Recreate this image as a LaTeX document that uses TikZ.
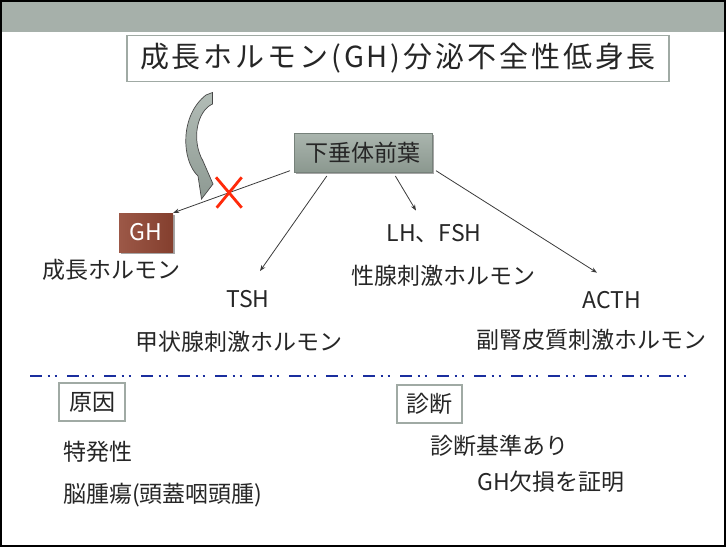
\documentclass[tikz,border=0pt]{standalone}
\usepackage{fontspec}
\setmainfont{Noto Sans CJK JP}
\newfontfamily\titlefont[LetterSpace=10]{Noto Sans CJK JP}
\usetikzlibrary{arrows.meta,shadows,calc}
\definecolor{barg}{HTML}{A6B0AA}
\definecolor{boxline}{HTML}{A0AAA4}
\definecolor{txt}{HTML}{262626}
\definecolor{pitA}{HTML}{AAB5AE}
\definecolor{pitB}{HTML}{8B988F}
\definecolor{ghA}{HTML}{9C5847}
\definecolor{ghB}{HTML}{843F2E}
\definecolor{xred}{HTML}{FF2A0A}
\definecolor{dashblue}{HTML}{1A2E9E}
\definecolor{arrowg}{HTML}{3A3A3A}
\definecolor{curvA}{HTML}{B2BCB6}
\definecolor{curvB}{HTML}{8E9A93}
\begin{document}
\begin{tikzpicture}[x=1pt,y=-1pt,
  lbl/.style={text=txt,font=\fontsize{23}{27}\selectfont,inner sep=0pt},
  conn/.style={draw=arrowg,line width=0.8pt,-{Stealth[length=6pt,width=4.5pt]}},
  framebox/.style={draw=boxline,line width=1.8pt,fill=white,inner sep=0pt},
  shad/.style={drop shadow={shadow xshift=2pt,shadow yshift=-2pt,opacity=0.35,fill=black}},
]
\useasboundingbox (0,0) rectangle (726,547);
\fill[barg] (1,1) rectangle (725,31.5);
\draw[black,line width=2pt] (1,1) rectangle (724.5,545.5);

% title
\node[framebox,minimum width=542pt,minimum height=46pt,text=txt,
      font=\titlefont\fontsize{29}{34}\selectfont] (title) at (398,58.5)
      {成長ホルモン(GH)分泌不全性低身長};

% curved block arrow
\draw[draw=black!72,line width=0.7pt,top color=curvA,bottom color=curvB]
  (206,95) -- (212.5,92.5) -- (212.5,104)
  .. controls (197,111) and (191,140) .. (203,161)
  -- (213,184) -- (201.5,199) -- (198,176)
  .. controls (181,160) and (180,115) .. cycle;

% pituitary box
\node[shad,draw=pitB!85!black,line width=0.4pt,top color=pitA,bottom color=pitB,
      minimum width=138pt,minimum height=39pt,outer sep=4pt,lbl] (pit) at (363,152.5) {下垂体前葉};

% GH box
\node[shad,left color=ghA,right color=ghB,minimum width=54pt,minimum height=39pt,
      inner sep=0pt,text=white,font=\fontsize{23}{27}\selectfont] (gh) at (146,232.5) {GH};

% labels
\node[lbl] (ghl) at (111.5,270) {成長ホルモン};
\node[lbl] (tsh) at (248,299) {TSH};
\node[lbl] (tshl) at (239,341.5) {甲状腺刺激ホルモン};
\node[lbl] (lh) at (434,234) {LH、FSH};
\node[lbl] (lhl) at (443.5,276) {性腺刺激ホルモン};
\node[lbl] (acth) at (612,300) {ACTH};
\node[lbl] (acthl) at (591,340) {副腎皮質刺激ホルモン};

% connectors
\draw[conn] (pit.194) -- (gh.north east);
\draw[conn] (pit.213) -- ($(tsh.north)+(12,-19)$);
\draw[conn] (pit.324) -- ($(lh.north)+(-18,-14)$);
\draw[conn] (pit.346) -- ($(acth.north)+(-15,-18.4)$);

% red cross
\draw[xred,line width=2.8pt] (216,177.3) -- (241.7,207.7);
\draw[xred,line width=2.8pt] (241.7,177.3) -- (216.7,207.7);

% separator
\draw[dashblue,line width=2pt,dash pattern=on 12pt off 5.5pt on 2.5pt off 4.5pt on 2.5pt off 10pt]
  (30,376) -- (688.5,376);

% lower boxes
\node[framebox,minimum width=66pt,minimum height=38pt,lbl] (cause) at (92,402) {原因};
\node[framebox,minimum width=65pt,minimum height=38pt,lbl] (diag) at (429.5,404) {診断};

\node[lbl,anchor=west] (idio) at (63,452) {特発性};
\node[lbl,anchor=west] (tumor) at (63,495) {脳腫瘍(頭蓋咽頭腫)};
\node[lbl,anchor=west] (crit) at (430,446) {診断基準あり};
\node[lbl,anchor=west] (ghdef) at (477,482) {GH欠損を証明};
\end{tikzpicture}
\end{document}
